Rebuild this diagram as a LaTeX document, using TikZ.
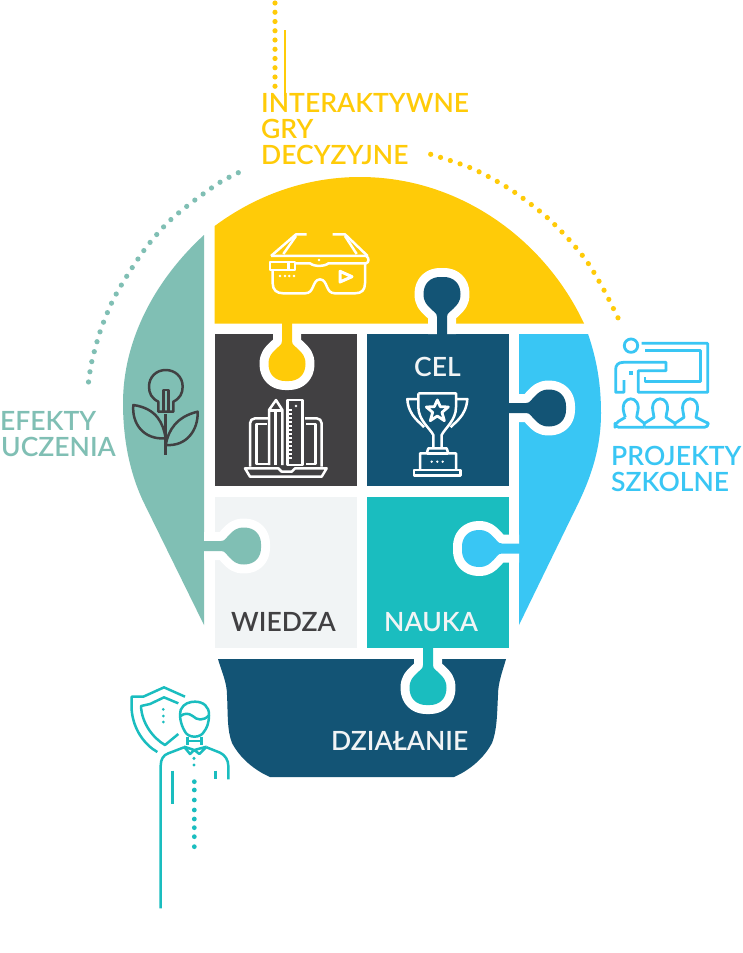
\documentclass[tikz,border=0pt]{standalone}
\usepackage{fontspec}
\setmainfont{Lato Semibold}
\definecolor{cYellow}{HTML}{FFCB08}
\definecolor{cDark}{HTML}{414042}
\definecolor{cNavy}{HTML}{135475}
\definecolor{cBlue}{HTML}{39C6F4}
\definecolor{cSage}{HTML}{80BFB4}
\definecolor{cTeal}{HTML}{1ABDBF}
\definecolor{cPale}{HTML}{F1F4F5}
% half outline of a puzzle tab, running out along +x from the edge of its tile
\def\tabshape#1{(#1,-5) -- (17,-5) .. controls (21,-5) and (22,-8) .. (25,-11)
  .. controls (29,-15) and (32,-18.5) .. (40,-18.5)
  .. controls (51,-18.5) and (57,-11) .. (57,-2) -- (57,2)
  .. controls (57,11) and (51,18.5) .. (40,18.5)
  .. controls (32,18.5) and (29,15) .. (25,11)
  .. controls (22,8) and (21,5) .. (17,5) -- (#1,5)}
\tikzset{
  label/.style={inner sep=0pt,font=\fontsize{26.5}{26}\selectfont},
  tile/.style={fill=#1,draw=none},
  dots/.style={draw=#1,line width=5.2pt,line cap=round,dash pattern=on 0pt off 10.3pt},
  icon/.style={draw=#1,line width=2.5pt,line join=round,fill=none},
  tab/.pic={
    \draw[white,fill=white,line width=18pt,line join=round] \tabshape{0};
    \fill[#1] \tabshape{-2} -- cycle;
  }
}
\begin{document}
\begin{tikzpicture}[x=1pt,y=-1pt]
\useasboundingbox (0,0) rectangle (742,953);
\fill[white] (0,0) rectangle (742,953);

% dotted arcs and the vertical lines above the bulb
\draw[dots=cYellow,dash pattern=on 0pt off 9.25pt] (275,3) -- (275,88);
\draw[cYellow,line width=2.4pt] (285,30) -- (285,96);
\draw[dots=cYellow] plot[smooth] coordinates {(430.7,154.3) (471.7,168.3) (509.3,188.7) (544,214.7) (567.3,237.7) (587.3,262) (604.3,290.7) (618.7,319.3)};
\draw[dots=cSage] plot[smooth] coordinates {(238.3,172.7) (219.3,182.7) (192.7,201.7) (168.3,222) (147,246.3) (128.3,273.7) (112.7,300.7) (100.3,331) (91.7,362) (88.3,383.7)};

% bulb segments
\fill[cYellow] (214.7,226) .. controls (255,196) and (305,177) .. (360,177)
  .. controls (460,177) and (545,240) .. (584,323.5) -- (214.7,323.5) -- cycle;
\fill[cSage] (204,235) .. controls (155,280) and (123,340) .. (123,403)
  .. controls (123,440) and (130,475) .. (145,505) -- (204,625) -- cycle;
\fill[cBlue] (519,334) -- (588,334) .. controls (597,360) and (601,385) .. (601,413)
  .. controls (601,450) and (590,480) .. (575,510) -- (519,625) -- cycle;
\fill[tile=cDark] (214.7,334) rectangle (356.5,486);
\fill[tile=cNavy] (366.5,334) rectangle (509,486);
\fill[tile=cPale] (214.7,497) rectangle (356.5,648);
\fill[tile=cTeal] (366.5,497) rectangle (509,648);
\fill[cNavy] (218,659) -- (506,659) .. controls (503,670) and (498,682) .. (498,695)
  .. controls (497,715) and (497,730) .. (492,743)
  .. controls (484,758) and (470,770) .. (454,777) -- (270,777)
  .. controls (254,770) and (240,758) .. (232,743)
  .. controls (227,730) and (228,715) .. (227,695)
  .. controls (227,682) and (221,670) .. (218,659) -- cycle;

% puzzle tabs
\pic[rotate=-90] at (287,324) {tab=cYellow};
\pic[rotate=90] at (442,334) {tab=cNavy};
\pic at (509,408) {tab=cNavy};
\pic at (204,546) {tab=cSage};
\pic[rotate=180] at (519,548.5) {tab=cBlue};
\pic[rotate=-90] at (428,648) {tab=cTeal};

% labels
\node[label,anchor=north west,align=left,text=cYellow] (games) at (261,93) {INTERAKTYWNE\\GRY\\DECYZYJNE};
\node[label,anchor=north west,align=left,text=cSage] (effects) at (0,411) {EFEKTY\\\hspace*{1pt}UCZENIA};
\node[label,anchor=north west,align=left,text=cBlue] (projects) at (611,446) {PROJEKTY\\SZKOLNE};
\node[label,anchor=base west,text=cDark] (knowledge) at (231,631) {WIEDZA};
\node[label,anchor=base west,text=cPale] (learning) at (384,631) {NAUKA};
\node[label,anchor=base west,text=cPale] (goal) at (414,376) {CEL};
\node[label,anchor=base west,text=cPale] (action) at (331,750) {DZIAŁANIE};

% smart glasses
\begin{scope}[shift={(200,0)},x=0.33333pt,y=-0.33333pt]
\draw[icon=white] (320,703) -- (288,703) -- (213,768);
\draw[icon=white] (250,762) -- (288,708);
\draw[icon=white] (398,703) -- (435,703) -- (503,768);
\draw[icon=white] (470,762) -- (435,708);
\draw[icon=white] (213,768) -- (498,768) .. controls (508,772) and (508,788) .. (498,790)
  -- (385,790) .. controls (378,798) and (345,802) .. (330,790) -- (285,790);
\draw[icon=white] (210,786) rectangle (285,810);
\draw[icon=white] (265,786) -- (265,810);
\draw[icon=white] (218,810) -- (218,850) .. controls (218,870) and (230,880) .. (250,880)
  -- (315,880) .. controls (345,880) and (335,840) .. (360,838)
  .. controls (385,840) and (375,880) .. (405,880) -- (465,880)
  .. controls (485,880) and (495,870) .. (495,850) -- (495,790);
\draw[icon=white,line width=3pt] (420,814) -- (456,830) -- (420,846) -- cycle;
\foreach \px in {240,255,268,282} \fill[white] (\px,828) circle (1.4pt);
\fill[white] (357,780) circle (1.4pt);
\end{scope}

% laptop, pencil and ruler
\begin{scope}[shift={(200,320)},x=0.33333pt,y=-0.33333pt]
\draw[icon=white] (135,445) -- (235,445) -- (245,455) -- (275,455) -- (285,445) -- (380,445) -- (365,470) -- (150,470) -- cycle;
\draw[icon=white,rounded corners=5pt] (150,440) -- (150,295) -- (205,295);
\draw[icon=white] (200,312) -- (170,312) -- (170,432) -- (205,432);
\draw[icon=white,rounded corners=5pt] (315,295) -- (365,295) -- (365,440);
\draw[icon=white] (318,312) -- (347,312) -- (347,432) -- (318,432);
\draw[icon=white] (207,435) -- (207,270) -- (228,240) -- (247,270) -- (247,435);
\draw[icon=white] (207,272) -- (247,272);
\draw[icon=white] (227,272) -- (227,435);
\draw[icon=white] (262,240) rectangle (307,435);
\foreach \py in {270,282,...,422} \draw[white,line width=1.4pt] (262,\py) -- (275,\py);
\fill[white] (288,258) circle (1.3pt);

% trophy
\draw[icon=white] (655,220) -- (768,220) -- (768,262) .. controls (768,300) and (735,325) .. (725,345) -- (725,385);
\draw[icon=white] (655,220) -- (655,262) .. controls (655,300) and (690,325) .. (700,345) -- (700,385);
\draw[icon=white] (655,237) -- (622,237) .. controls (625,290) and (665,310) .. (672,322);
\draw[icon=white] (768,237) -- (802,237) .. controls (799,290) and (760,310) .. (752,322);
\draw[icon=white] (660,450) -- (660,400) -- (680,400) -- (685,385) -- (740,385) -- (745,400) -- (768,400) -- (768,450);
\draw[icon=white] (680,400) -- (745,400);
\draw[icon=white] (642,450) rectangle (782,467);
\foreach \px in {695,712,728} \fill[white] (\px,425) circle (1.3pt);
\draw[icon=white,line width=2.8pt] (712,240) -- (721,260) -- (745,261) -- (726,277) -- (733,302) -- (712,288) -- (691,302) -- (698,277) -- (679,261) -- (703,260) -- cycle;
\end{scope}

% presenter and audience
\begin{scope}[shift={(610,330)},x=0.33333pt,y=-0.33333pt,every path/.append style={icon=cBlue,line width=2.8pt}]
\draw (63,47) circle (6.7pt);
\draw (95,40) -- (293,40) -- (293,187) -- (85,187) -- (85,122) -- (168,122) -- (168,97) -- (40,97) .. controls (25,97) and (17,105) .. (17,118) -- (17,187) -- (42,187) -- (42,150);
\draw (105,62) -- (272,62) -- (272,155) -- (105,155) -- (105,140);
\fill[cBlue,draw=none] (58,124) rectangle (68,134);
\draw[rounded corners=4pt] (103,292) -- (15,292) -- (15,280) -- (46,262);
\draw (46,262) -- (42,250) .. controls (26,192) and (99,192) .. (82,250) -- (80,262) -- (103,280) -- (103,292);
\draw (103,280) -- (132,262) -- (130,250) .. controls (114,192) and (187,192) .. (170,250) -- (168,262) -- (195,280) -- (195,292);
\draw (195,280) -- (222,262) -- (220,250) .. controls (204,192) and (277,192) .. (260,250) -- (258,262) -- (295,280);
\draw[rounded corners=4pt] (295,280) -- (295,292) -- (103,292);
\end{scope}

% bulb sprouting from a stem
\begin{scope}[shift={(0,340)},x=0.33333pt,y=-0.33333pt]
\draw[icon=cDark] (475,215) -- (475,185) .. controls (455,175) and (447,160) .. (447,140)
  .. controls (447,110) and (470,90) .. (497,90) .. controls (525,90) and (548,110) .. (548,140)
  .. controls (548,160) and (540,175) .. (520,185) -- (520,215) -- cycle;
\draw[icon=cDark] (490,215) -- (490,150) -- (505,150) -- (505,215);
\draw[icon=cDark] (497,222) -- (497,345);
\draw[icon=cDark] (400,195) .. controls (470,205) and (490,250) .. (497,295) .. controls (430,300) and (395,250) .. (400,195) -- cycle;
\draw[icon=cDark] (593,215) .. controls (530,230) and (505,270) .. (497,315) .. controls (560,320) and (595,270) .. (593,215) -- cycle;
\end{scope}

% figure with shield
\begin{scope}[shift={(110,640)},x=0.33333pt,y=-0.33333pt]
\draw[icon=cTeal] (225,170) -- (162,142) -- (100,170) -- (65,170) -- (65,210) .. controls (70,270) and (105,315) .. (142,336);
\draw[icon=cTeal] (205,190) -- (162,172) -- (120,192) -- (93,198) .. controls (95,250) and (130,295) .. (165,315) -- (205,282);
\foreach \py in {208,228,246} \fill[cTeal] (160,\py) circle (1.5pt);
\draw[icon=cTeal] (225,275) .. controls (210,250) and (208,225) .. (212,210) .. controls (220,190) and (240,185) .. (255,185) .. controls (280,185) and (298,200) .. (297,225) .. controls (297,250) and (290,265) .. (282,275) .. controls (272,295) and (235,295) .. (225,275) -- cycle;
\draw[icon=cTeal] (212,228) .. controls (222,220) and (235,218) .. (248,228) .. controls (260,240) and (280,245) .. (298,225);
\draw[icon=cTeal] (232,290) -- (232,315) (275,290) -- (275,315) (232,303) -- (275,303);
\draw[icon=cTeal] (222,320) -- (240,342) -- (253,330) -- (268,342) -- (290,320) (222,320) -- (253,330) -- (290,320);
\draw[icon=cTeal] (152,805) -- (152,378) .. controls (152,358) and (160,345) .. (175,340) -- (222,322);
\draw[icon=cTeal] (290,322) -- (330,338) .. controls (345,345) and (355,360) .. (355,378) -- (355,418);
\draw[icon=cTeal] (187,392) -- (187,492);
\draw[icon=cTeal,line width=2.8pt] (317,392) -- (317,416);
\foreach \py in {355,375} \fill[cTeal] (252,\py) circle (1.7pt);
\foreach \py in {425,450,480,510,537,563,590,620} \fill[cTeal] (253,\py) circle (2.4pt);
\end{scope}
\end{tikzpicture}
\end{document}
